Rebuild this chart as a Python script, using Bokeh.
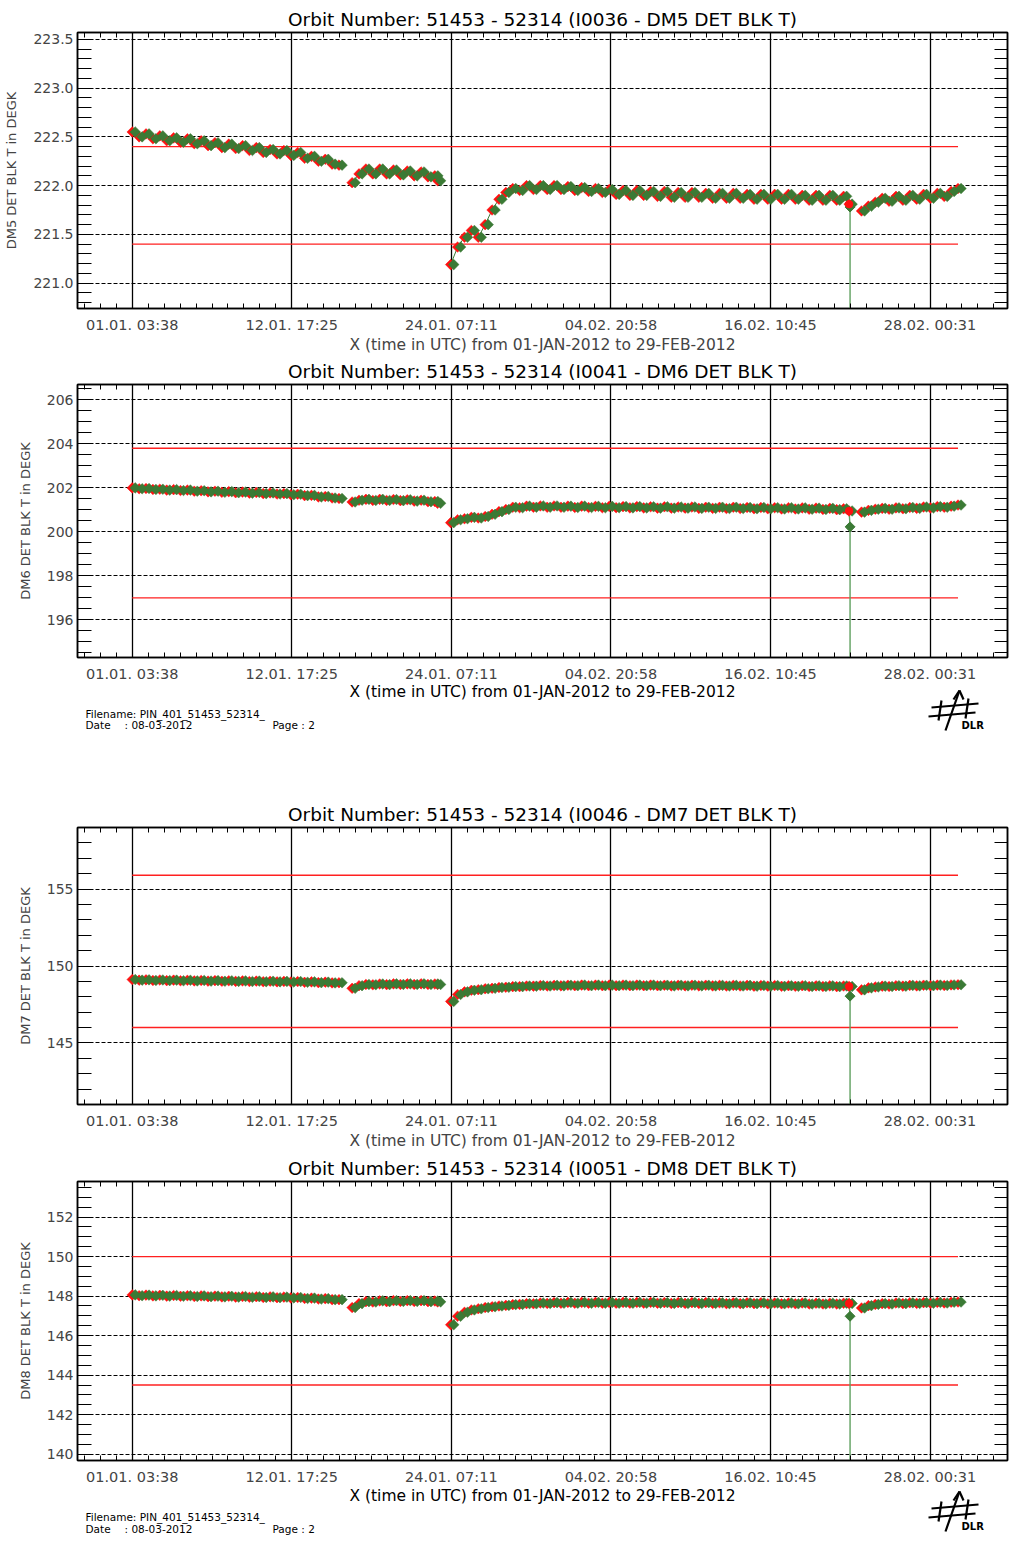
import datetime as dt
import numpy as np
from bokeh.plotting import figure
from bokeh.layouts import column
from bokeh.models import Range1d, FixedTicker, LinearAxis, ColumnDataSource, PrintfTickFormatter
from bokeh.transform import dodge
from bokeh.embed import file_html
from bokeh.resources import INLINE
from bokeh.core.properties import value

FONT = "DejaVu Sans"
W = 1010
FR_L, FR_R = 77, 1007   # frame edges in page pixels

# ---------------- shared x axis ----------------
x_tick_labels = ["01.01. 03:38", "12.01. 17:25", "24.01. 07:11",
                 "04.02. 20:58", "16.02. 10:45", "28.02. 00:31"]
x_title = "X (time in UTC) from 01-JAN-2012 to 29-FEB-2012"
X_START, X_END = -3.82, 63.64          # days since 2012-01-01 00:00 UTC

# sample times (days since 2012-01-01 00:00 UTC), shared by all four channels
t_seg_a = [0.15, 0.65, 1.15, 1.65, 2.15, 2.65, 3.15, 3.65, 4.15, 4.65,
           5.15, 5.65, 6.15, 6.65, 7.15, 7.65, 8.15, 8.65, 9.15, 9.65,
           10.15, 10.65, 11.15, 11.65, 12.15, 12.65, 13.15, 13.65, 14.15, 14.65,
           15.15]
t_seg_b = [16.1, 16.6, 17.1, 17.6, 18.1, 18.6, 19.1, 19.6, 20.1, 20.6,
           21.1, 21.6, 22.1, 22.3]
t_seg_c = [23.25, 23.75, 24.25, 24.75, 25.25, 25.75, 26.25, 26.75, 27.25, 27.75,
           28.25, 28.75, 29.25, 29.75, 30.25, 30.75, 31.25, 31.75, 32.25, 32.75,
           33.25, 33.75, 34.25, 34.75, 35.25, 35.75, 36.25, 36.75, 37.25, 37.75,
           38.25, 38.75, 39.25, 39.75, 40.25, 40.75, 41.25, 41.75, 42.25, 42.75,
           43.25, 43.75, 44.25, 44.75, 45.25, 45.75, 46.25, 46.75, 47.25, 47.75,
           48.25, 48.75, 49.25, 49.75, 50.25, 50.75, 51.25, 51.75, 52.15]
t_spike = [52.22, 52.22]
t_seg_d = [53.05, 53.55, 54.05, 54.55, 55.05, 55.55, 56.05, 56.55, 57.05, 57.55,
           58.05, 58.55, 59.05, 59.55, 60.05]

# ---------------- DM5 ----------------
dm5_a = [222.55, 222.50, 222.53, 222.48, 222.51, 222.46, 222.49, 222.445, 222.48, 222.43,
         222.46, 222.41, 222.44, 222.39, 222.425, 222.38, 222.41, 222.36, 222.39, 222.34,
         222.37, 222.325, 222.36, 222.31, 222.34, 222.28, 222.30, 222.25, 222.27, 222.22,
         222.21]
dm5_b = [222.03, 222.12, 222.17, 222.12, 222.17, 222.12, 222.16, 222.11, 222.15, 222.10,
         222.14, 222.09, 222.10, 222.05]
dm5_c = [221.19, 221.37, 221.47, 221.54, 221.47, 221.60, 221.75, 221.86, 221.93, 221.97,
         221.95, 222.00, 221.96, 222.00, 221.96, 222.00, 221.96, 221.99, 221.95, 221.98,
         221.94, 221.97, 221.93, 221.96, 221.91, 221.95, 221.90, 221.95, 221.90, 221.94,
         221.89, 221.94, 221.88, 221.93, 221.88, 221.93, 221.88, 221.92, 221.87, 221.92,
         221.87, 221.92, 221.87, 221.91, 221.86, 221.91, 221.86, 221.91, 221.86, 221.91,
         221.86, 221.90, 221.85, 221.90, 221.85, 221.90, 221.85, 221.89, 221.81]
dm5_spike = [221.78, 0.0]
dm5_d = [221.74, 221.79, 221.83, 221.87, 221.84, 221.89, 221.85, 221.90, 221.86, 221.91,
         221.87, 221.92, 221.89, 221.94, 221.97]

# ---------------- DM6 ----------------
dm6_a = [202.00, 201.96, 201.97, 201.93, 201.94, 201.90, 201.92, 201.88, 201.90, 201.85,
         201.87, 201.82, 201.85, 201.80, 201.83, 201.78, 201.81, 201.76, 201.79, 201.74,
         201.77, 201.72, 201.74, 201.69, 201.71, 201.65, 201.66, 201.59, 201.61, 201.54,
         201.52]
dm6_b = [201.36, 201.44, 201.48, 201.43, 201.48, 201.43, 201.47, 201.42, 201.46, 201.40,
         201.44, 201.37, 201.38, 201.30]
dm6_c = [200.42, 200.55, 200.60, 200.66, 200.63, 200.70, 200.80, 200.92, 201.02, 201.12,
         201.10, 201.17, 201.12, 201.18, 201.12, 201.18, 201.12, 201.17, 201.11, 201.17,
         201.11, 201.16, 201.10, 201.16, 201.10, 201.15, 201.09, 201.15, 201.09, 201.14,
         201.08, 201.14, 201.08, 201.13, 201.08, 201.13, 201.07, 201.12, 201.07, 201.12,
         201.06, 201.12, 201.06, 201.11, 201.05, 201.11, 201.05, 201.10, 201.04, 201.10,
         201.04, 201.09, 201.03, 201.08, 201.02, 201.07, 201.01, 201.05, 200.95]
dm6_spike = [200.23, 0.0]
dm6_d = [200.90, 200.98, 201.03, 201.07, 201.03, 201.09, 201.05, 201.11, 201.07, 201.13,
         201.09, 201.15, 201.12, 201.17, 201.22]

# ---------------- DM7 ----------------
dm7_a = [149.12, 149.08, 149.10, 149.06, 149.09, 149.05, 149.08, 149.04, 149.07, 149.03,
         149.06, 149.02, 149.05, 149.01, 149.04, 149.00, 149.03, 148.99, 149.02, 148.98,
         149.01, 148.97, 149.00, 148.96, 148.99, 148.94, 148.97, 148.92, 148.95, 148.90,
         148.91]
dm7_b = [148.55, 148.72, 148.80, 148.78, 148.83, 148.79, 148.84, 148.80, 148.84, 148.80,
         148.84, 148.80, 148.83, 148.80]
dm7_c = [147.70, 148.15, 148.32, 148.42, 148.46, 148.52, 148.55, 148.60, 148.62, 148.66,
         148.66, 148.70, 148.69, 148.73, 148.70, 148.74, 148.71, 148.75, 148.72, 148.76,
         148.72, 148.76, 148.72, 148.76, 148.72, 148.76, 148.72, 148.76, 148.72, 148.76,
         148.72, 148.75, 148.71, 148.75, 148.71, 148.75, 148.71, 148.75, 148.71, 148.74,
         148.70, 148.74, 148.70, 148.74, 148.69, 148.73, 148.69, 148.73, 148.68, 148.72,
         148.68, 148.72, 148.67, 148.71, 148.67, 148.71, 148.66, 148.70, 148.67]
dm7_spike = [148.04, 0.0]
dm7_d = [148.45, 148.58, 148.64, 148.69, 148.67, 148.72, 148.69, 148.74, 148.71, 148.75,
         148.72, 148.76, 148.73, 148.77, 148.78]

# ---------------- DM8 ----------------
dm8_a = [148.06, 148.02, 148.05, 148.01, 148.04, 148.00, 148.03, 147.99, 148.02, 147.98,
         148.01, 147.97, 148.00, 147.96, 147.99, 147.95, 147.98, 147.94, 147.97, 147.93,
         147.96, 147.92, 147.95, 147.91, 147.93, 147.88, 147.90, 147.85, 147.87, 147.82,
         147.82]
dm8_b = [147.42, 147.62, 147.72, 147.70, 147.76, 147.72, 147.77, 147.73, 147.77, 147.73,
         147.77, 147.72, 147.75, 147.71]
dm8_c = [146.55, 146.98, 147.18, 147.30, 147.36, 147.42, 147.46, 147.50, 147.53, 147.57,
         147.58, 147.62, 147.61, 147.65, 147.63, 147.67, 147.64, 147.68, 147.64, 147.68,
         147.64, 147.68, 147.64, 147.68, 147.64, 147.68, 147.64, 147.68, 147.64, 147.68,
         147.64, 147.67, 147.63, 147.67, 147.63, 147.67, 147.63, 147.67, 147.63, 147.66,
         147.62, 147.66, 147.62, 147.66, 147.62, 147.66, 147.61, 147.65, 147.61, 147.65,
         147.61, 147.65, 147.60, 147.64, 147.60, 147.64, 147.60, 147.64, 147.63]
dm8_spike = [146.98, 0.0]
dm8_d = [147.40, 147.52, 147.58, 147.62, 147.60, 147.65, 147.62, 147.66, 147.63, 147.67,
         147.64, 147.68, 147.65, 147.69, 147.70]

panels = [
    dict(title="Orbit Number: 51453 - 52314 (I0036 - DM5 DET BLK T)",
         ylabel="DM5 DET BLK T in DEGK", yrange=(220.74, 223.57),
         ymajor=[221.0, 221.5, 222.0, 222.5, 223.0, 223.5], yminor_step=0.1, fmt="%.1f",
         limits=[221.4, 222.4], segs=[dm5_a, dm5_b, dm5_c, dm5_d], spike=dm5_spike),
    dict(title="Orbit Number: 51453 - 52314 (I0041 - DM6 DET BLK T)",
         ylabel="DM6 DET BLK T in DEGK", yrange=(194.29, 206.70),
         ymajor=[196, 198, 200, 202, 204, 206], yminor_step=0.5, fmt="%d",
         limits=[197.0, 203.8], segs=[dm6_a, dm6_b, dm6_c, dm6_d], spike=dm6_spike),
    dict(title="Orbit Number: 51453 - 52314 (I0046 - DM7 DET BLK T)",
         ylabel="DM7 DET BLK T in DEGK", yrange=(141.0, 159.0),
         ymajor=[145, 150, 155], yminor_step=1.0, fmt="%d",
         limits=[146.0, 155.9], segs=[dm7_a, dm7_b, dm7_c, dm7_d], spike=dm7_spike),
    dict(title="Orbit Number: 51453 - 52314 (I0051 - DM8 DET BLK T)",
         ylabel="DM8 DET BLK T in DEGK", yrange=(139.68, 153.8),
         ymajor=[140, 142, 144, 146, 148, 150, 152], yminor_step=0.5, fmt="%d",
         limits=[143.5, 150.0], segs=[dm8_a, dm8_b, dm8_c, dm8_d], spike=dm8_spike),
]

for cfg in panels:
    for tt, vv in zip([t_seg_a, t_seg_b, t_seg_c, t_seg_d], cfg["segs"]):
        assert len(tt) == len(vv), (cfg["ylabel"], len(tt), len(vv))


def label_to_day(s):
    d = dt.datetime.strptime("2012." + s, "%Y.%d.%m. %H:%M")
    return (d - dt.datetime(2012, 1, 1)).total_seconds() / 86400.0


x_major = [label_to_day(s) for s in x_tick_labels]
x_step = (x_major[1] - x_major[0]) / 10.0
x_minor = [x_major[0] + k * x_step for k in range(-40, 70)
           if X_START <= x_major[0] + k * x_step <= X_END]

GREEN = "#3b7a35"
RED = "#ff1010"


def make_panel(cfg, height, top, bottom, show_xtitle):
    ylo, yhi = cfg["yrange"]
    p = figure(width=W, height=height, output_backend="svg", toolbar_location=None,
               x_range=Range1d(X_START, X_END), y_range=Range1d(ylo, yhi),
               min_border_left=FR_L, min_border_right=W - FR_R, min_border_top=top,
               min_border_bottom=bottom, title=cfg["title"])
    p.title.align = "center"
    p.title.text_font = FONT
    p.title.text_font_size = "18.5px"
    p.title.text_font_style = "normal"
    p.title.text_color = "black"
    p.title.standoff = 5
    p.outline_line_color = "black"
    p.outline_line_width = 1.5

    ymin_ticks = []
    k = int(np.floor(ylo / cfg["yminor_step"]))
    while k * cfg["yminor_step"] <= yhi:
        v = k * cfg["yminor_step"]
        if v >= ylo:
            ymin_ticks.append(round(v, 4))
        k += 1

    xt = FixedTicker(ticks=x_major, minor_ticks=x_minor)
    yt = FixedTicker(ticks=cfg["ymajor"], minor_ticks=ymin_ticks)

    xa = p.xaxis[0]
    xa.ticker = xt
    xa.major_label_overrides = {x: s for x, s in zip(x_major, x_tick_labels)}
    xa.major_label_text_font = FONT
    xa.major_label_text_font_size = "14.5px"
    xa.major_label_standoff = 8
    xa.major_tick_in = 0
    xa.major_tick_out = 0
    xa.minor_tick_in = 5
    xa.minor_tick_out = 0
    xa.axis_line_width = 1.5
    if show_xtitle:
        xa.axis_label = x_title
        xa.axis_label_text_font = FONT
        xa.axis_label_text_font_size = "15.5px"
        xa.axis_label_text_font_style = "normal"
        xa.axis_label_standoff = 0

    ya = p.yaxis[0]
    ya.ticker = yt
    ya.formatter = PrintfTickFormatter(format=cfg["fmt"])
    ya.major_label_text_font = FONT
    ya.major_label_text_font_size = "14px"
    ya.major_label_standoff = 4
    ya.major_tick_in = 14
    ya.major_tick_out = 0
    ya.minor_tick_in = 14
    ya.minor_tick_out = 0
    ya.axis_line_width = 1.5
    ya.axis_label = cfg["ylabel"]
    ya.axis_label_text_font = FONT
    ya.axis_label_text_font_size = "13px"
    ya.axis_label_text_font_style = "normal"
    ya.axis_label_standoff = 11

    top_ax = LinearAxis(ticker=xt, major_label_text_font_size="0px", major_label_standoff=0,
                        major_tick_in=0, major_tick_out=0, minor_tick_in=5, minor_tick_out=0,
                        axis_line_width=1.5)
    top_ax.major_label_overrides = {x: "" for x in x_major}
    p.add_layout(top_ax, "above")
    right_ax = LinearAxis(ticker=yt, major_label_text_font_size="0px", major_label_standoff=0,
                          major_tick_in=13, major_tick_out=0, minor_tick_in=13, minor_tick_out=0,
                          axis_line_width=1.5)
    right_ax.major_label_overrides = {y: "" for y in cfg["ymajor"]}
    p.add_layout(right_ax, "right")

    p.xgrid.ticker = FixedTicker(ticks=x_major)
    p.xgrid.grid_line_color = "black"
    p.xgrid.grid_line_width = 1.3
    p.ygrid.ticker = FixedTicker(ticks=cfg["ymajor"])
    p.ygrid.grid_line_color = "black"
    p.ygrid.grid_line_width = 1.2
    p.ygrid.grid_line_dash = "4 2"

    # limit lines over the data period
    p.segment(x0=[t_seg_a[0]] * 2, x1=[t_seg_d[-1]] * 2, y0=cfg["limits"], y1=cfg["limits"],
              line_color="#ff2020", line_width=1.4)

    segs = cfg["segs"]
    # spike: drop-out reading connected to the previous sample
    p.line(x=[t_seg_c[-1]] + t_spike, y=[segs[2][-1]] + cfg["spike"],
           line_color="#5f9f5f", line_width=1.4)
    for tt, vv in zip([t_seg_a, t_seg_b, t_seg_c, t_seg_d], segs):
        src = ColumnDataSource(dict(t=tt, v=vv))
        p.line("t", "v", source=src, line_color=GREEN, line_width=1)
        p.scatter("t", "v", source=src, marker="square", angle=np.pi / 4, size=7.5,
                  fill_color=RED, line_color=RED, line_width=0.5)
        p.scatter(x=dodge("t", 0.22), y="v", source=src, marker="square", angle=np.pi / 4,
                  size=7.5, fill_color=GREEN, line_color=GREEN, line_width=0.5)
    p.scatter(x=t_spike[:1], y=cfg["spike"][:1], marker="square", angle=np.pi / 4, size=7,
              fill_color=GREEN, line_color=GREEN)
    p.scatter(x=t_seg_c[-1:], y=segs[2][-1:], marker="circle", size=7.5,
              fill_color=RED, line_color=RED)
    return p


def make_footer(height, y_title, y_file, y_date, logo_top):
    # x in page pixels (frame aligned with the panels' frames), y downward in pixels
    f = figure(width=W, height=height, output_backend="svg", toolbar_location=None,
               x_range=Range1d(FR_L, FR_R), y_range=Range1d(height, 0),
               x_axis_type=None, y_axis_type=None, min_border_left=FR_L,
               min_border_right=W - FR_R, min_border_top=0, min_border_bottom=0,
               outline_line_color=None)
    f.text(x=[(FR_L + FR_R) / 2], y=[y_title], text=[x_title], text_font=value(FONT),
           text_font_size="15.5px", text_align="center", text_baseline="middle")
    f.text(x=[85, 85, 124, 272], y=[y_file, y_date, y_date, y_date],
           text=["Filename: PIN_401_51453_52314_", "Date", ": 08-03-2012", "Page : 2"],
           text_font=value(FONT), text_font_size="10.5px", text_baseline="middle")
    # DLR logo (decoration)
    ox, oy = 928, logo_top
    xs = [[ox + 17, ox + 31], [ox + 31, ox + 25], [ox + 31, ox + 35],
          [ox + 3, ox + 50], [ox + 0, ox + 47], [ox + 13, ox + 10], [ox + 40, ox + 37]]
    ys = [[oy + 40, oy + 0], [oy + 0, oy + 9], [oy + 0, oy + 9],
          [oy + 17, oy + 13], [oy + 26, oy + 22], [oy + 10, oy + 30], [oy + 8, oy + 28]]
    f.multi_line(xs=xs, ys=ys, line_color="black", line_width=2.2)
    f.text(x=[ox + 33], y=[oy + 35], text=["DLR"], text_font=value(FONT),
           text_font_size="10px", text_font_style="bold", text_baseline="middle")
    return f


p1 = make_panel(panels[0], 356, 32, 45, True)
p2 = make_panel(panels[1], 328, 25, 25, False)
f1 = make_footer(106, 7, 29, 40, 6)
p3 = make_panel(panels[2], 362, 37, 43, True)
p4 = make_panel(panels[3], 335, 29, 25, False)
f2 = make_footer(57, 8, 29, 41, 4)

layout = column(p1, p2, f1, p3, p4, f2, spacing=0)
open("out.html", "w").write(file_html(layout, INLINE))
